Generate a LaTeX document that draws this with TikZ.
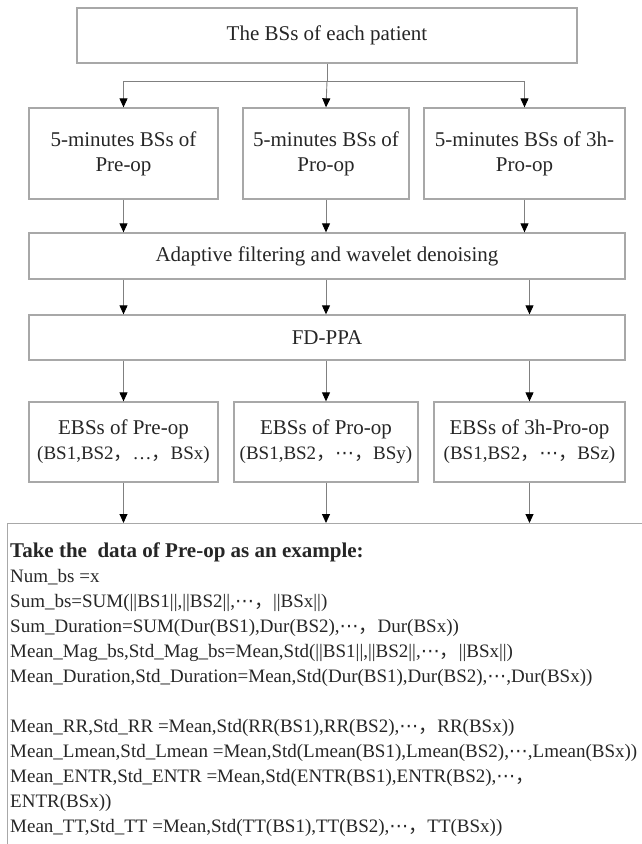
\documentclass[tikz,border=0pt]{standalone}
\usepackage{fontspec}
\setmainfont{Liberation Serif}
\newfontfamily\cjk{Noto Sans CJK SC}
\newfontfamily\symf{DejaVu Sans}
\usetikzlibrary{arrows.meta}
\definecolor{edgegray}{HTML}{A8A8A8}
\definecolor{linkgray}{HTML}{808080}
\newcommand{\zc}{{\cjk ，}}
\newcommand{\zd}{{\symf ⋯}}
\begin{document}
\begin{tikzpicture}[x=1pt,y=-1pt,
  box/.style={draw=edgegray,line width=1.3pt,inner sep=2pt,align=center,text=black!85,font=\fontsize{21}{25}\selectfont},
  link/.style={draw=linkgray,line width=0.9pt},
  arr/.style={link,-{Triangle[width=8pt,length=9pt,color=black]}},
  datatext/.style={anchor=base west,inner sep=0pt,text=black!85,font=\fontsize{19}{25}\selectfont}]
\useasboundingbox (0,0) rectangle (642,844);
\clip (0,0) rectangle (642,844);
\node[box,minimum width=500pt,minimum height=55pt] (patient) at (327,35.5) {The BSs of each patient};
\node[box,minimum width=189pt,minimum height=91pt] (pre) at (123.5,153.5) {5-minutes BSs of\\Pre-op};
\node[box,minimum width=166pt,minimum height=91pt] (pro) at (326,153.5) {5-minutes BSs of\\Pro-op};
\node[box,minimum width=201pt,minimum height=91pt] (late) at (524.5,153.5) {5-minutes BSs of 3h-\\Pro-op};
\node[box,minimum width=596pt,minimum height=46pt] (filter) at (327,256) {Adaptive filtering and wavelet denoising};
\node[box,minimum width=596pt,minimum height=45pt] (fdppa) at (327,337.5) {FD-PPA};
\node[box,minimum width=189pt,minimum height=80pt] (ebspre) at (123.5,442) {EBSs of Pre-op\\{\fontsize{19}{25}\selectfont(BS1,BS2\zc…\zc BSx)}};
\node[box,minimum width=184pt,minimum height=80pt] (ebspro) at (326,442) {EBSs of Pro-op\\{\fontsize{19}{25}\selectfont(BS1,BS2\zc\zd\zc BSy)}};
\node[box,minimum width=191pt,minimum height=80pt] (ebslate) at (529.5,442) {EBSs of 3h-Pro-op\\{\fontsize{19}{25}\selectfont(BS1,BS2\zc\zd\zc BSz)}};
\node[draw=edgegray,line width=1.3pt,anchor=north west,minimum width=700pt,minimum height=400pt] (example) at (7,523) {};
\coordinate (split) at (327,81);
\draw[link] (patient) -- (split);
\draw[arr] (split) -| (pre.north);
\draw[arr] (split) -- (pro.north);
\draw[arr] (split) -| (late.north);
\foreach \src in {pre,pro,late}
  \draw[arr] (\src) -- (\src |- filter.north);
\foreach \src in {pre,pro,ebslate}
  \draw[arr] (\src |- filter.south) -- (\src |- fdppa.north);
\foreach \src in {ebspre,ebspro,ebslate}
  \draw[arr] (\src |- fdppa.south) -- (\src.north);
\foreach \src in {ebspre,ebspro,ebslate}
  \draw[arr] (\src) -- (\src |- example.north);
\node[datatext,font=\bfseries\fontsize{21}{25}\selectfont] (take) at (10,557) {Take the\ \ data of Pre-op as an example:};
\foreach \yy/\row [count=\i] in {
  582/{Num\_bs =x},
  607/{Sum\_bs=SUM(||BS1||,||BS2||,\zd\zc ||BSx||)},
  632/{Sum\_Duration=SUM(Dur(BS1),Dur(BS2),\zd\zc Dur(BSx))},
  657/{Mean\_Mag\_bs,Std\_Mag\_bs=Mean,Std(||BS1||,||BS2||,\zd\zc ||BSx||)},
  682/{Mean\_Duration,Std\_Duration=Mean,Std(Dur(BS1),Dur(BS2),\zd,Dur(BSx))},
  732/{Mean\_RR,Std\_RR =Mean,Std(RR(BS1),RR(BS2),\zd\zc RR(BSx))},
  757/{Mean\_Lmean,Std\_Lmean =Mean,Std(Lmean(BS1),Lmean(BS2),\zd,Lmean(BSx))},
  782/{Mean\_ENTR,Std\_ENTR =Mean,Std(ENTR(BS1),ENTR(BS2),\zd\zc},
  807/{ENTR(BSx))},
  832/{Mean\_TT,Std\_TT =Mean,Std(TT(BS1),TT(BS2),\zd\zc TT(BSx))}}
  \node[datatext] (line\i) at (10,\yy) {\row};
\end{tikzpicture}
\end{document}
